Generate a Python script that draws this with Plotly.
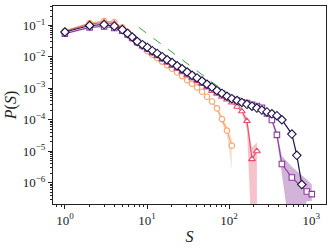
import plotly.graph_objects as go

S = [1, 2, 3, 4, 5, 5.8, 6.6, 7.6, 8.8, 10.1, 11.6, 13.3, 15.3, 17.6, 20.2, 23.3, 26.8,
     30.8, 35.4, 40.7, 46.8, 53.8, 61.9, 71.2, 81.9, 94.2, 108, 125, 143, 165, 190, 218,
     251, 289, 332, 382, 439, 505, 581, 668, 768, 884, 1016]

P_orange = [6.8e-2, 1.2e-1, 1.38e-1, 1.29e-1, 8.7e-2, 6.3e-2, 4.4e-2, 2.95e-2, 2.1e-2, 1.51e-2,
            1.17e-2, 9.1e-3, 7.1e-3, 5.4e-3, 4.2e-3, 3.2e-3, 2.45e-3, 1.82e-3, 1.41e-3, 1.07e-3,
            7.8e-4, 5.4e-4, 3.8e-4, 2.3e-4, 1.05e-4, 4.5e-5, 1.5e-5]

P_pink = [6.5e-2, 1.12e-1, 1.23e-1, 1.15e-1, 8.1e-2, 6.0e-2, 4.3e-2, 2.95e-2, 2.14e-2, 1.66e-2,
          1.29e-2, 1.05e-2, 8.1e-3, 6.6e-3, 5.2e-3, 4.2e-3, 3.3e-3, 2.6e-3, 2.1e-3, 1.7e-3,
          1.38e-3, 1.07e-3, 8.3e-4, 6.8e-4, 5.4e-4, 4.4e-4, 3.55e-4, 2.6e-4, 1.86e-4, 9.1e-5,
          5.6e-6, 1.0e-5]

P_purple = [5.5e-2, 8.7e-2, 9.3e-2, 8.3e-2, 6.8e-2, 5.2e-2, 4.0e-2, 2.95e-2, 2.4e-2, 1.95e-2,
            1.51e-2, 1.2e-2, 9.5e-3, 7.6e-3, 6.2e-3, 4.9e-3, 3.9e-3, 3.1e-3, 2.5e-3, 2.04e-3,
            1.62e-3, 1.29e-3, 1.05e-3, 8.3e-4, 6.8e-4, 5.4e-4, 4.6e-4, 4.1e-4, 3.6e-4, 3.4e-4,
            3.0e-4, 2.75e-4, 2.4e-4, 1.58e-4, 9.8e-5, 3.3e-5, 3.9e-6, None, 1.45e-6, None, None,
            5.2e-7, 4.3e-7]

P_dark = [6.2e-2, 1.0e-1, 1.07e-1, 9.5e-2, 7.4e-2, 5.6e-2, 4.3e-2, 3.1e-2, 2.45e-2, 2.0e-2,
          1.58e-2, 1.29e-2, 1.02e-2, 8.1e-3, 6.6e-3, 5.2e-3, 4.2e-3, 3.3e-3, 2.6e-3, 2.14e-3,
          1.7e-3, 1.35e-3, 1.1e-3, 8.5e-4, 6.9e-4, 5.6e-4, 4.7e-4, 4.1e-4, 3.55e-4, 3.1e-4,
          2.7e-4, 2.35e-4, 2.04e-4, 1.78e-4, 1.55e-4, 1.35e-4, 1.0e-4, None, 3.5e-5, 7.4e-6,
          8.7e-7]

# error bands (tails)
band_orange_S = [71.2, 81.9, 94.2, 108]
band_orange_hi = [2.6e-4, 1.3e-4, 6.5e-5, 2.4e-5]
band_orange_lo = [2.0e-4, 8.0e-5, 3.0e-5, 2.5e-6]

band_pink_S = [143, 165, 190, 218]
band_pink_hi = [2.1e-4, 1.2e-4, 1.3e-5, 1.9e-5]
band_pink_lo = [1.6e-4, 5.0e-5, 1e-8, 1e-8]

band_purple_S = [332, 382, 439, 581, 884, 1016]
band_purple_hi = [1.1e-4, 4.2e-5, 7.0e-6, 3.2e-6, 1.26e-6, 8.7e-7]
band_purple_lo = [8.5e-5, 2.5e-5, 1.5e-6, 1e-8, 2.6e-7, 2.6e-7]

ref_S = [8, 80]
ref_P = [8.6e-2, 9.6e-4]

x_ticks = [1, 10, 100, 1000]
x_ticktext = ["10<sup>0</sup>", "10<sup>1</sup>", "10<sup>2</sup>", "10<sup>3</sup>"]
y_ticks = [1e-1, 1e-2, 1e-3, 1e-4, 1e-5, 1e-6]
y_ticktext = ["10<sup>−1</sup>", "10<sup>−2</sup>", "10<sup>−3</sup>",
              "10<sup>−4</sup>", "10<sup>−5</sup>", "10<sup>−6</sup>"]

C_ORANGE = "#fca46e"
C_PINK = "#e4506d"
C_PURPLE = "#8a3a9a"
C_DARK = "#1e1548"

fig = go.Figure()


def band(xs, hi, lo, color):
    fig.add_trace(go.Scatter(x=xs + xs[::-1], y=hi + lo[::-1], fill="toself",
                             fillcolor=color, line=dict(width=0), mode="lines",
                             hoverinfo="skip", showlegend=False))


band(band_orange_S, band_orange_hi, band_orange_lo, "rgba(252,164,110,0.35)")
band(band_pink_S, band_pink_hi, band_pink_lo, "rgba(228,80,109,0.35)")
band(band_purple_S, band_purple_hi, band_purple_lo, "rgba(138,58,154,0.38)")


def series(P, color, symbol, size, lw):
    fig.add_trace(go.Scatter(x=S[:len(P)], y=P, mode="lines+markers", connectgaps=True,
                             line=dict(color=color, width=lw),
                             marker=dict(symbol=symbol, size=size, color="white",
                                         line=dict(color=color, width=1.1)),
                             showlegend=False))


series(P_orange, C_ORANGE, "circle", 5.5, 1.1)
series(P_pink, C_PINK, "triangle-up", 6, 1.1)
series(P_purple, C_PURPLE, "square", 5.5, 1.1)
series(P_dark, C_DARK, "diamond", 6.5, 1.2)

fig.add_trace(go.Scatter(x=ref_S, y=ref_P, mode="lines",
                         line=dict(color="#3aa63a", width=1, dash="dash"),
                         showlegend=False))

minor_x = [m * 10 ** k for k in range(-1, 4) for m in range(2, 10)]
minor_y = [m * 10 ** k for k in range(-8, 0) for m in range(2, 10)]

font_family = "Liberation Serif, DejaVu Serif, serif"

fig.update_layout(
    width=332, height=248,
    margin=dict(l=53, r=5, t=5, b=40),
    paper_bgcolor="white", plot_bgcolor="white",
    font=dict(family=font_family, size=13, color="#222"),
    xaxis=dict(type="log", range=[-0.145, 3.18], tickvals=x_ticks, ticktext=x_ticktext,
               ticks="outside", ticklen=4, tickwidth=1, tickcolor="#222",
               showline=True, linecolor="#222", linewidth=1, mirror=True,
               showgrid=False, zeroline=False,
               minor=dict(tickvals=minor_x, ticks="outside", ticklen=2, tickcolor="#222",
                          showgrid=False),
               title=dict(text="<i>S</i>", font=dict(size=16), standoff=4),
               tickfont=dict(size=13)),
    yaxis=dict(type="log", range=[-6.68, -0.38], tickvals=y_ticks, ticktext=y_ticktext,
               ticks="outside", ticklen=4, tickwidth=1, tickcolor="#222",
               showline=True, linecolor="#222", linewidth=1, mirror=True,
               showgrid=False, zeroline=False,
               minor=dict(tickvals=minor_y, ticks="outside", ticklen=2, tickcolor="#222",
                          showgrid=False),
               title=dict(text="<i>P</i>(<i>S</i>)", font=dict(size=16), standoff=2),
               tickfont=dict(size=13)),
)

fig.write_html("out.html", config={"displayModeBar": False},
               post_script="document.body.style.margin='0';document.body.style.padding='0';")
